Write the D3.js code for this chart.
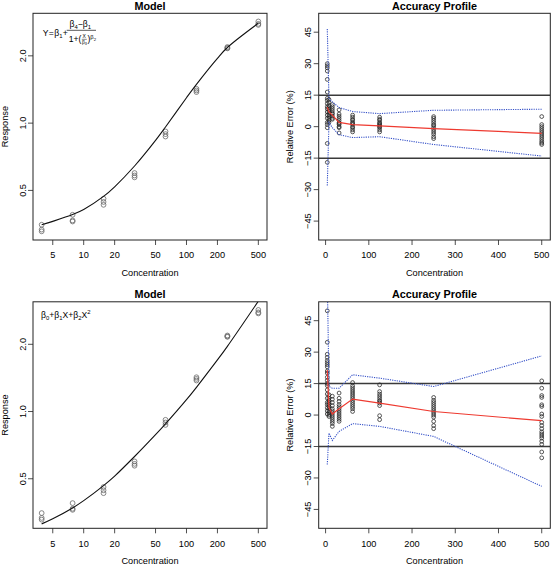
<!DOCTYPE html>
<html>
<head>
<meta charset="utf-8">
<script src="https://cdn.jsdelivr.net/npm/d3@7"></script>
<style>
  body { margin: 0; background: #fff; }
  svg { display: block; font-family: "Liberation Sans", Arial, Helvetica, sans-serif; }
</style>
</head>
<body>
<svg id="chart" width="552" height="565"></svg>
<script>
// ---- values ----
const concLevels = [3.9, 7.8, 15.6, 31.25, 62.5, 125, 250, 500];

// three replicate responses per level (same data in both model panels)
const respRep1 = [0.351, 0.389, 0.459, 0.598, 0.918, 1.424, 2.19, 2.85];
const respRep2 = [0.334, 0.367, 0.444, 0.583, 0.893, 1.400, 2.17, 2.78];
const respRep3 = [0.328, 0.363, 0.431, 0.572, 0.871, 1.377, 2.16, 2.75];

// fitted curves
const curveConc = [3.9, 5, 7.8, 10, 15.6, 20, 31.25, 50, 62.5, 100, 125, 200, 250, 500];
const logisticFit = [0.351, 0.3635, 0.390, 0.411, 0.470, 0.519, 0.643, 0.837, 0.961, 1.299, 1.491, 1.949, 2.179, 2.797];
const quadraticFit = [0.314, 0.331, 0.370, 0.399, 0.466, 0.514, 0.629, 0.788, 0.881, 1.130, 1.284, 1.702, 1.959, 3.12];

// relative errors (%) per level, top (4PL) accuracy profile
const logisticErrors = [
  [30, 29, 28, 26.5, 22.5, 16.5, 13.5, 12.5, 11, 9.5, 8.5, 7, 5.5, 4, 2, 1, -0.5, -8, -17],
  [13, 11.5, 10, 9, 8, 7, 6, 5, 4, 3, 2],
  [10.5, 9.5, 8.5, 7.5, 6.5, 6, 5, 4, 3.5],
  [8, 6, 5, 4, 3, 2, 1.5, 1, 0, -0.5, -3],
  [5.5, 4.5, 3.5, 3, 2, 1.5, 1, 0, -0.5, -1.5, -2.5],
  [4.5, 3.5, 3, 2, 1.5, 1, 0.5, 0, -0.5, -1.5, -2.5],
  [4.8, 4, 3, 2, 1, 0.5, -0.5, -1.5, -2.5, -3.5, -4.8, -5.7],
  [4.8, 1, 0, -1, -2, -3, -4, -5, -6, -7, -7.8, -8.5]
];
const logisticBias = [9.3, 7, 5.5, 2, 1, 0.4, -0.9, -3.2];
const logisticUpper = [46.5, 13.5, 11.8, 9.1, 7.2, 6.2, 7.8, 8.3];
const logisticLower = [-28, 2, -0.5, -3.8, -5.2, -4.8, -8.5, -14];

// relative errors (%) per level, bottom (quadratic) accuracy profile
const quadraticErrors = [
  [49.7, 34.7, 29, 27.5, 26, 25, 24, 23, 21, 20, 18, 16.5, 15, 14, 12, 10, 8, 6, 5, 3.5, 2, 0.5],
  [9.7, 8, 7, 6, 5, 4, 3, 2, 1, 0, -0.7],
  [9, 7.5, 6, 4.5, 3, 2, 1, 0, -1, -2, -3, -4, -5.4],
  [10.5, 8, 6.5, 5, 4, 3, 2, 1, 0, -1, -2, -3],
  [15.5, 14, 13, 12, 11, 10, 9, 8, 7, 6, 5, 4, 3, 1.7],
  [14.4, 11.2, 10, 9, 8, 7, 6.5, 5.7, 4.5, -0.3, -2.2],
  [8.4, 7, 6, 5, 4, 3, 2, 1, 0, -1, -3, -5, -6.5],
  [16.3, 12.8, 9.3, 8.4, 4.9, 4.1, 0.5, -0.7, -3.5, -5, -6.5, -8, -9, -10, -11, -12.5, -14, -17.6, -20.4]
];
const quadraticBias = [21.5, 3.5, 0.5, 3, 7.6, 5.7, 1.7, -2.7];
const quadraticUpper = [66, 13.6, 12.8, 12.8, 19.2, 17.6, 13.6, 28.2];
const quadraticLower = [-23.6, -8.6, -12.1, -7.8, -4.1, -5.4, -10.2, -34];

// axes
const logConcTicks = [5, 10, 20, 50, 100, 200, 500];
const respTicks = [0.5, 1.0, 2.0];
const linConcTicks = [0, 100, 200, 300, 400, 500];
const errTicks = [-45, -30, -15, 0, 15, 30, 45];
const acceptLimits = [-15, 15];
const respDomain = [0.30, 3.10];
const errLimits = [-50, 50];

// ---- layout ----
const svg = d3.select('#chart');
const cols = [{ x0: 33, x1: 267 }, { x0: 318.7, x1: 550.3 }];
const rows = [{ y0: 13.3, y1: 240 }, { y0: 301.8, y1: 528.3 }];
const TICK = 5, FS = 9.2;

// R style 4% padding
function pad(lo, hi) { const d = (hi - lo) * 0.04; return [lo - d, hi + d]; }
const logConcDom = pad(Math.log10(d3.min(concLevels)), Math.log10(d3.max(concLevels))).map(v => Math.pow(10, v));
const linConcDom = pad(d3.min(concLevels), d3.max(concLevels));
const errDom = pad(errLimits[0], errLimits[1]);

let clipId = 0;
function frame(col, row, title, ylab) {
  const c = cols[col], r = rows[row];
  const g = svg.append('g');
  const id = 'clip' + (clipId++);
  svg.append('clipPath').attr('id', id).append('rect')
    .attr('x', c.x0).attr('y', r.y0).attr('width', c.x1 - c.x0).attr('height', r.y1 - r.y0);
  const plot = g.append('g').attr('clip-path', `url(#${id})`);
  g.append('text').attr('x', (c.x0 + c.x1) / 2).attr('y', r.y0 - 3.6)
    .attr('text-anchor', 'middle').attr('font-size', 10.8).attr('font-weight', 'bold').text(title);
  g.append('text').attr('x', (c.x0 + c.x1) / 2).attr('y', r.y1 + 35.6)
    .attr('text-anchor', 'middle').attr('font-size', FS).text('Concentration');
  const yx = col === 0 ? 8 : 292.6;
  g.append('text').attr('transform', `translate(${yx},${(r.y0 + r.y1) / 2}) rotate(-90)`)
    .attr('text-anchor', 'middle').attr('font-size', FS).text(ylab);
  return { g, plot, c, r };
}

function axes(p, x, y, xt, yt, yfmt) {
  const { g, c, r } = p;
  xt.forEach(t => {
    const px = x(t);
    g.append('line').attr('x1', px).attr('x2', px).attr('y1', r.y1).attr('y2', r.y1 + TICK)
      .attr('stroke', '#222').attr('stroke-width', 0.8);
    g.append('text').attr('x', px).attr('y', r.y1 + 18.2).attr('text-anchor', 'middle')
      .attr('font-size', FS).text(t);
  });
  yt.forEach(t => {
    const py = y(t);
    g.append('line').attr('x1', c.x0 - TICK).attr('x2', c.x0).attr('y1', py).attr('y2', py)
      .attr('stroke', '#222').attr('stroke-width', 0.8);
    g.append('text').attr('transform', `translate(${c.x0 - 7.4},${py}) rotate(-90)`)
      .attr('text-anchor', 'middle').attr('font-size', FS).text(yfmt(t));
  });
  g.append('rect').attr('x', c.x0).attr('y', r.y0)
    .attr('width', c.x1 - c.x0).attr('height', r.y1 - r.y0)
    .attr('fill', 'none').attr('stroke', '#222').attr('stroke-width', 1);
}

function runText(g, x, y, parts) {
  let cx = x;
  parts.forEach(p => {
    const t = g.append('text').attr('x', cx + (p.dx || 0)).attr('y', y + (p.dy || 0))
      .attr('font-size', p.size).text(p.t);
    cx += (p.dx || 0) + t.node().getComputedTextLength();
  });
  return cx;
}

function modelPanel(row, fit, formula) {
  const p = frame(0, row, 'Model', 'Response');
  const x = d3.scaleLog().domain(logConcDom).range([p.c.x0, p.c.x1]);
  const y = d3.scaleLog().domain(respDomain).range([p.r.y1, p.r.y0]);
  axes(p, x, y, logConcTicks, respTicks, d3.format('.1f'));

  [respRep1, respRep2, respRep3].forEach(rep => {
    p.plot.selectAll(null).data(rep).join('circle')
      .attr('cx', (d, i) => x(concLevels[i])).attr('cy', d => y(d)).attr('r', 2.4)
      .attr('fill', 'none').attr('stroke', '#6a6a6a').attr('stroke-width', 0.8);
  });

  const line = d3.line().x(d => x(d[0])).y(d => y(d[1])).curve(d3.curveCatmullRom.alpha(0.5));
  p.plot.append('path').attr('d', line(curveConc.map((c, i) => [c, fit[i]])))
    .attr('fill', 'none').attr('stroke', '#111').attr('stroke-width', 1.1);

  formula(p.g);
}

function accuracyPanel(row, errors, bias, upper, lower) {
  const p = frame(1, row, 'Accuracy Profile', 'Relative Error (%)');
  const x = d3.scaleLinear().domain(linConcDom).range([p.c.x0, p.c.x1]);
  const y = d3.scaleLinear().domain(errDom).range([p.r.y1, p.r.y0]);
  axes(p, x, y, linConcTicks, errTicks, d => d < 0 ? '\u2212' + (-d) : String(d));

  acceptLimits.forEach(v => {
    p.plot.append('line').attr('x1', p.c.x0).attr('x2', p.c.x1).attr('y1', y(v)).attr('y2', y(v))
      .attr('stroke', '#3a3a3a').attr('stroke-width', 1.5);
  });

  const pts = errors.flatMap((vals, i) => vals.map(v => [concLevels[i], v]));
  p.plot.selectAll(null).data(pts).join('circle')
    .attr('cx', d => x(d[0])).attr('cy', d => y(d[1])).attr('r', 1.9)
    .attr('fill', 'none').attr('stroke', '#222').attr('stroke-width', 0.75);

  const line = d3.line().x(d => x(d[0])).y(d => y(d[1]));
  [upper, lower].forEach(s => {
    p.plot.append('path').attr('d', line(concLevels.map((c, i) => [c, s[i]])))
      .attr('fill', 'none').attr('stroke', '#3652c8').attr('stroke-width', 1.1)
      .attr('stroke-dasharray', '1.2,1.1');
  });
  p.plot.append('path').attr('d', line(concLevels.map((c, i) => [c, bias[i]])))
    .attr('fill', 'none').attr('stroke', '#ee3a30').attr('stroke-width', 1.2);
}

const M = 8.6, S = 5.9;
modelPanel(0, logisticFit, g => {
  runText(g, 42.7, 36.3, [
    { t: 'Y', size: M }, { t: '=', size: M, dx: 0.4 }, { t: '\u03b2', size: M, dx: 0.4 },
    { t: '1', size: S, dy: 2 }, { t: '+', size: M, dx: 0.3 }]);
  g.append('line').attr('x1', 66.7).attr('x2', 96).attr('y1', 30.3).attr('y2', 30.3)
    .attr('stroke', '#111').attr('stroke-width', 0.7);
  runText(g, 69.5, 27, [
    { t: '\u03b2', size: M }, { t: '4', size: S, dy: 2 }, { t: '\u2212', size: M },
    { t: '\u03b2', size: M }, { t: '1', size: S, dy: 2 }]);
  let ex = runText(g, 68.7, 41.6, [
    { t: '1', size: M }, { t: '+', size: M }, { t: '(', size: M }]);
  g.append('text').attr('x', ex + 2.8).attr('y', 38.3).attr('font-size', 5)
    .attr('text-anchor', 'middle').text('X');
  g.append('line').attr('x1', ex + 0.4).attr('x2', ex + 5.4).attr('y1', 39.3).attr('y2', 39.3)
    .attr('stroke', '#111').attr('stroke-width', 0.5);
  runText(g, ex + 0.5, 44, [{ t: '\u03b2', size: 5 }, { t: '3', size: 3.8, dy: 1 }]);
  runText(g, ex + 6, 41.6, [
    { t: ')', size: M }, { t: '\u03b2', size: S, dy: -2.5 }, { t: '2', size: 4.2, dy: -1 }]);
});
accuracyPanel(0, logisticErrors, logisticBias, logisticUpper, logisticLower);

modelPanel(1, quadraticFit, g => {
  runText(g, 41, 317.6, [
    { t: '\u03b2', size: M }, { t: '0', size: S, dy: 2 }, { t: '+', size: M },
    { t: '\u03b2', size: M }, { t: '1', size: S, dy: 2 }, { t: 'X', size: M }, { t: '+', size: M },
    { t: '\u03b2', size: M }, { t: '2', size: S, dy: 2 }, { t: 'X', size: M }, { t: '2', size: S, dy: -3.6 }]);
});
accuracyPanel(1, quadraticErrors, quadraticBias, quadraticUpper, quadraticLower);
</script>
</body>
</html>
